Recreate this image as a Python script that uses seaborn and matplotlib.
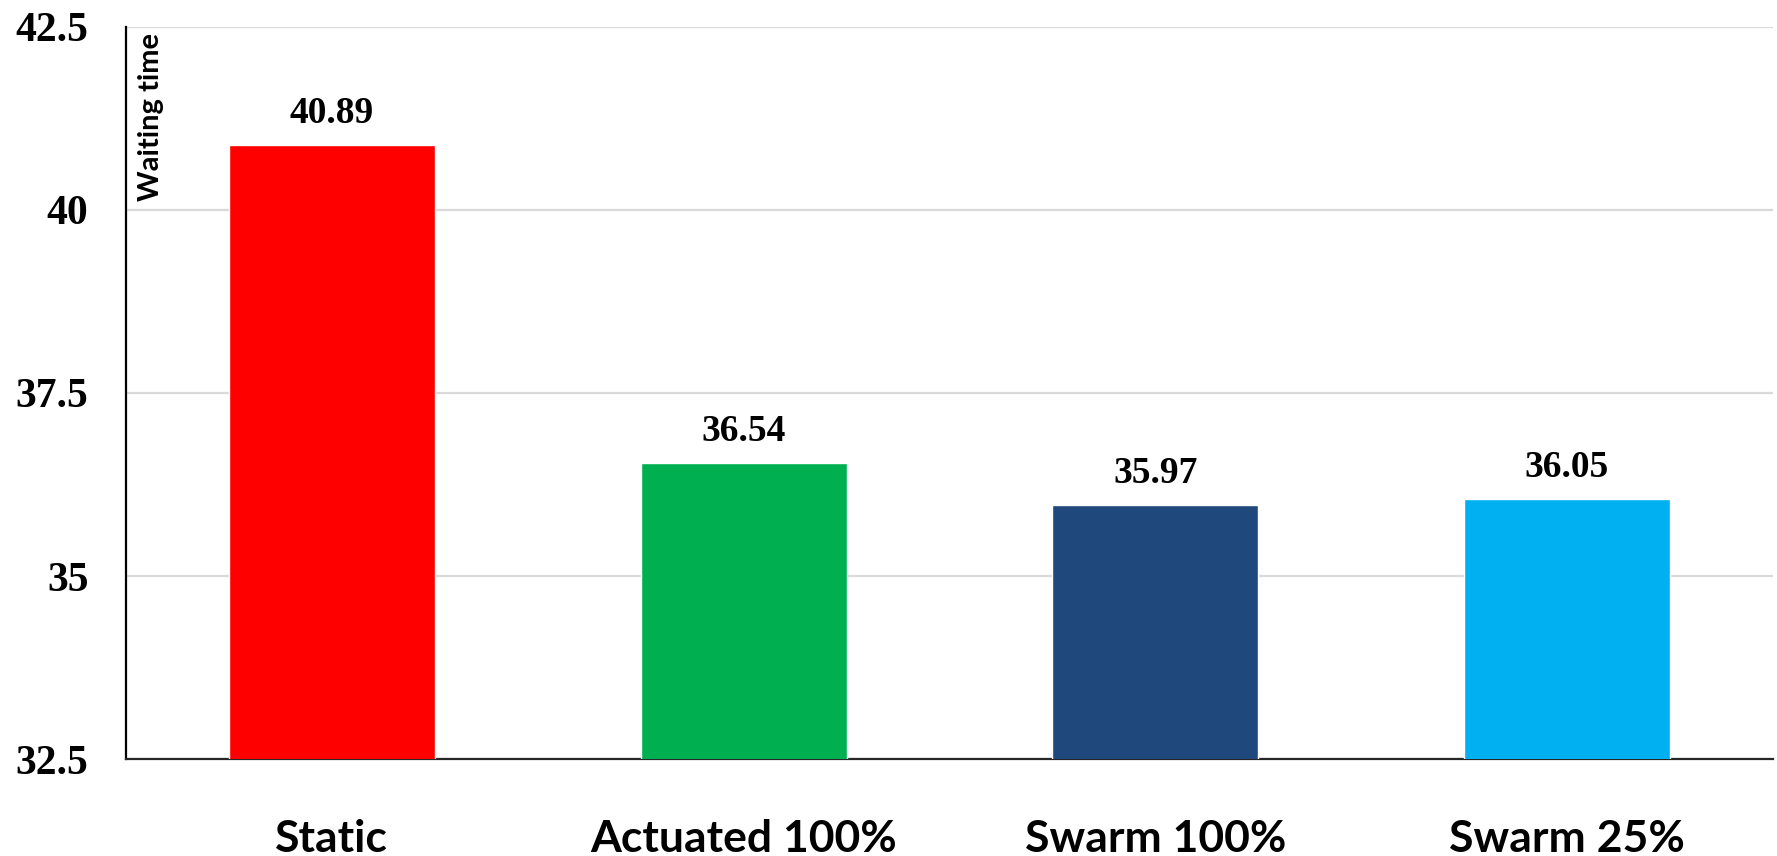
import matplotlib
matplotlib.use("Agg")
import matplotlib.pyplot as plt
import seaborn as sns
import pandas as pd

categories = ["Static", "Actuated 100%", "Swarm 100%", "Swarm 25%"]
waiting_time = [40.89, 36.54, 35.97, 36.05]
bar_colors = ["#FF0000", "#00B050", "#1F497D", "#00B0F0"]
y_ticks = [32.5, 35, 37.5, 40, 42.5]
y_tick_labels = ["32.5", "35", "37.5", "40", "42.5"]

sns.set_theme(style="white")
plt.rcParams["font.family"] = ["Lato", "DejaVu Sans"]

df = pd.DataFrame({"method": categories, "wait": waiting_time})

fig = plt.figure(figsize=(17.77, 8.56), dpi=100)
ax = fig.add_axes([0.0709, 0.1133, 0.9268, 0.8552])

sns.barplot(data=df, x="method", y="wait", hue="method", palette=bar_colors,
            width=0.5, legend=False, ax=ax, saturation=1, zorder=3)

ax.set_ylim(32.5, 42.5)
ax.set_yticks(y_ticks)
ax.set_yticklabels(y_tick_labels, fontfamily="Liberation Serif",
                   fontweight="bold", fontsize=30)
ax.set_xticks(range(len(categories)))
ax.set_xticklabels(categories, fontfamily="Lato", fontweight="bold", fontsize=32)
ax.tick_params(axis="y", length=0, pad=27, labelcolor="black")
ax.tick_params(axis="x", length=0, pad=43, labelcolor="black")
ax.set_xlabel("")
ax.set_ylabel("")

ax.yaxis.grid(True, color="#d9d9d9", linewidth=1.6, zorder=0)
ax.set_axisbelow(True)
for side in ["top", "right"]:
    ax.spines[side].set_visible(False)
ax.spines["left"].set_color("black")
ax.spines["left"].set_linewidth(1.6)
ax.spines["bottom"].set_color("#262626")
ax.spines["bottom"].set_linewidth(1.6)

for i, v in enumerate(waiting_time):
    ax.annotate(f"{v:.2f}", xy=(i, v), xytext=(0, 16), textcoords="offset points",
                ha="center", va="baseline", fontfamily="Liberation Serif",
                fontweight="bold", fontsize=27, color="black")

ax.text(0.015, 0.992, "Waiting time", transform=ax.transAxes, rotation=90,
        ha="center", va="top", fontfamily="Lato", fontweight="bold",
        fontsize=21, color="black")

fig.savefig("out.png", dpi=100, facecolor="white")
